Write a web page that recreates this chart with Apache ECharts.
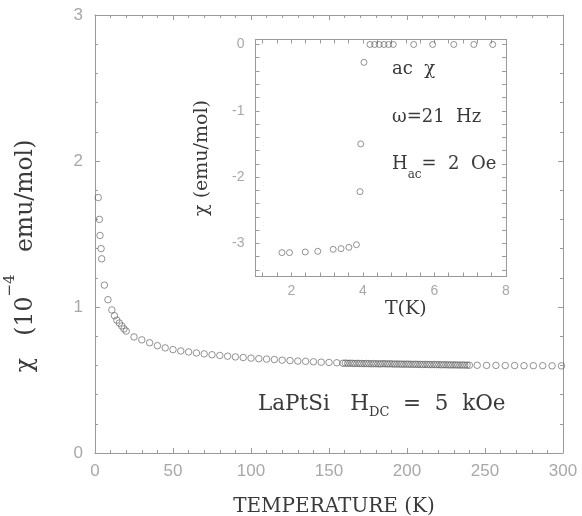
<!DOCTYPE html>
<html><head><meta charset="utf-8">
<script src="https://cdn.jsdelivr.net/npm/echarts@6/dist/echarts.min.js"></script>
<style>html,body{margin:0;padding:0;background:#fff}#c{width:582px;height:516px}</style>
</head><body><div id="c"></div>
<script>
// Main DC susceptibility data: temperature (K) and chi (1e-4 emu/mol)
const mainT = [2.1, 2.8, 3.2, 3.9, 4.3, 6.0, 8.3, 10.8, 12.5, 14.0, 15.6, 17.2, 18.6, 20.0,
  25, 30, 35, 40, 45, 50, 55, 60, 65, 70, 75, 80, 85, 90, 95, 100, 105, 110, 115, 120, 125, 130, 135, 140, 145, 150, 155,
  159, 160.5, 162, 163.5, 165, 166.5, 168, 169.5, 171, 172.5, 174, 175.5, 177, 178.5, 180, 181.5, 183, 184.5, 186, 187.5,
  189, 190.5, 192, 193.5, 195, 196.5, 198, 199.5, 201, 202.5, 204, 205.5, 207, 208.5, 210, 211.5, 213, 214.5, 216, 217.5,
  219, 220.5, 222, 223.5, 225, 226.5, 228, 229.5, 231, 232.5, 234, 235.5, 237, 238.5, 240,
  245, 251, 257, 263, 269, 275, 281, 287, 293, 299];
const mainChi = [1.75, 1.60, 1.49, 1.40, 1.33, 1.15, 1.05, 0.98, 0.94, 0.91, 0.89, 0.87, 0.85, 0.835,
  0.795, 0.775, 0.755, 0.735, 0.720, 0.708, 0.699, 0.692, 0.685, 0.679, 0.673, 0.668, 0.663, 0.658, 0.654, 0.650, 0.646, 0.643, 0.640, 0.636, 0.633, 0.630, 0.628, 0.625, 0.622, 0.620, 0.618,
  0.615, 0.616, 0.614, 0.615, 0.614, 0.613, 0.614, 0.613, 0.613, 0.612, 0.613, 0.612, 0.611, 0.612, 0.611, 0.611, 0.610, 0.612, 0.611, 0.610,
  0.611, 0.610, 0.609, 0.610, 0.609, 0.609, 0.608, 0.609, 0.608, 0.608, 0.607, 0.608, 0.607, 0.607, 0.606, 0.607, 0.606, 0.606, 0.605, 0.606,
  0.605, 0.605, 0.604, 0.605, 0.604, 0.604, 0.603, 0.604, 0.603, 0.603, 0.602, 0.603, 0.602, 0.602, 0.601,
  0.601, 0.600, 0.600, 0.599, 0.599, 0.598, 0.598, 0.598, 0.597, 0.597];

// Inset AC susceptibility: T (K) and chi (emu/mol)
const insetT = [1.74, 1.95, 2.39, 2.74, 3.17, 3.39, 3.61, 3.82, 3.92, 3.94, 4.03,
  4.20, 4.33, 4.46, 4.59, 4.72, 4.85, 5.42, 5.95, 6.54, 7.10, 7.63];
const insetChi = [-3.14, -3.14, -3.13, -3.12, -3.09, -3.08, -3.06, -3.02, -2.22, -1.50, -0.27,
  0, 0, 0, 0, 0, 0, 0, 0, 0, 0, 0];

// Inset tick values
const insetXLabels = [2, 4, 6, 8];
const insetXTicks = [1.2, 1.6, 2, 2.4, 2.8, 3.2, 3.6, 4, 4.4, 4.8, 5.2, 5.6, 6, 6.4, 6.8, 7.2, 7.6, 8];
const insetYLabels = [-3, -2, -1, 0];
const insetYTicks = [-3.4, -3.2, -3, -2.8, -2.6, -2.4, -2.2, -2, -1.8, -1.6, -1.4, -1.2, -1, -0.8, -0.6, -0.4, -0.2, 0];

const AX = '#9a9a9a';
const LBL = '#a8a8a8';
const TXT = '#3a3a3a';
const SERIF = 'DejaVu Serif';
const SANS = 'Liberation Sans';

const chart = echarts.init(document.getElementById('c'), null, {renderer: 'canvas'});

function mainX(pos, show) {
  return {
    type: 'value', gridIndex: 0, position: pos, min: 0, max: 300, interval: 50,
    axisLine: {show: true, onZero: false, lineStyle: {color: AX, width: 1}},
    axisTick: {show: true, inside: true, length: 5, lineStyle: {color: AX}},
    minorTick: {show: true, splitNumber: 5, length: 3, lineStyle: {color: AX}},
    axisLabel: {show: show, color: LBL, fontSize: 17, fontFamily: SANS, margin: 10},
    splitLine: {show: false}
  };
}
function mainY(pos, show) {
  return {
    type: 'value', gridIndex: 0, position: pos, min: 0, max: 3, interval: 1,
    axisLine: {show: true, onZero: false, lineStyle: {color: AX, width: 1}},
    axisTick: {show: true, inside: true, length: 5, lineStyle: {color: AX}},
    minorTick: {show: true, splitNumber: 5, length: 3, lineStyle: {color: AX}},
    axisLabel: {show: show, color: LBL, fontSize: 17, fontFamily: SANS, margin: 12},
    splitLine: {show: false}
  };
}
function insetX(pos, show) {
  return {
    type: 'value', gridIndex: 1, position: pos, min: 1, max: 8,
    axisLine: {show: true, onZero: false, lineStyle: {color: AX, width: 1}},
    axisTick: {show: true, inside: true, length: 4, customValues: insetXTicks, lineStyle: {color: AX}},
    axisLabel: {show: show, color: LBL, fontSize: 14, fontFamily: SANS, margin: 8, customValues: insetXLabels},
    splitLine: {show: false}
  };
}
function insetY(pos, show) {
  return {
    type: 'value', gridIndex: 1, position: pos, min: -3.5, max: 0.075,
    axisLine: {show: true, onZero: false, lineStyle: {color: AX, width: 1}},
    axisTick: {show: true, inside: true, length: 4, customValues: insetYTicks, lineStyle: {color: AX}},
    axisLabel: {show: show, color: LBL, fontSize: 14, fontFamily: SANS, margin: 11, customValues: insetYLabels},
    splitLine: {show: false}
  };
}

const xMain = mainX('bottom', true);
xMain.name = 'TEMPERATURE (K)';
xMain.nameLocation = 'middle';
xMain.nameGap = 44;
xMain.nameTextStyle = {fontFamily: SERIF, fontSize: 20, color: TXT, padding: [0, 0, 0, 10]};

const yMain = mainY('left', true);
yMain.name = '{a|χ   (10}{s|−4}{a|   emu/mol)}';
yMain.nameLocation = 'middle';
yMain.nameRotate = 90;
yMain.nameGap = 57;
yMain.nameTextStyle = {
  padding: [0, 44, 0, 0],
  rich: {
    a: {fontFamily: SERIF, fontSize: 23.5, color: TXT, lineHeight: 35, verticalAlign: 'bottom'},
    s: {fontFamily: SERIF, fontSize: 15, color: TXT, lineHeight: 14, verticalAlign: 'top'}
  }
};

const xIn = insetX('bottom', true);
xIn.name = 'T(K)';
xIn.nameLocation = 'middle';
xIn.nameGap = 20;
xIn.nameTextStyle = {fontFamily: SERIF, fontSize: 19, color: TXT, padding: [0, 0, 0, 50]};

const yIn = insetY('left', true);
yIn.name = 'χ (emu/mol)';
yIn.nameLocation = 'middle';
yIn.nameRotate = 90;
yIn.nameGap = 44;
yIn.nameTextStyle = {fontFamily: SERIF, fontSize: 19, color: TXT};

chart.setOption({
  backgroundColor: '#ffffff',
  animation: false,
  grid: [
    {left: 95, top: 15, right: 19, bottom: 63, containLabel: false, outerBoundsMode: 'none'},
    {left: 255.5, top: 39.5, right: 76, bottom: 239.5, containLabel: false, outerBoundsMode: 'none'}
  ],
  xAxis: [xMain, mainX('top', false), xIn, insetX('top', false)],
  yAxis: [yMain, mainY('right', false), yIn, insetY('right', false)],
  graphic: [
    {type: 'text', x: 392, y: 69, style: {text: 'ac  χ', fontFamily: SERIF, fontSize: 18, fill: TXT, align: 'left', verticalAlign: 'middle'}},
    {type: 'text', x: 392, y: 117, style: {text: 'ω=21  Hz', fontFamily: SERIF, fontSize: 18, fill: TXT, align: 'left', verticalAlign: 'middle'}},
    {type: 'text', x: 392, y: 155, style: {
      text: '{a|H}{s|ac}{a|=  2  Oe}', align: 'left', verticalAlign: 'top',
      rich: {
        a: {fontFamily: SERIF, fontSize: 18, fill: TXT, color: TXT, lineHeight: 20, verticalAlign: 'top'},
        s: {fontFamily: SERIF, fontSize: 12, fill: TXT, color: TXT, lineHeight: 40, verticalAlign: 'middle'}
      }}},
    {type: 'text', x: 258, y: 393, style: {
      text: '{a|LaPtSi   H}{s|DC}{a|  =  5  kOe}', align: 'left', verticalAlign: 'top',
      rich: {
        a: {fontFamily: SERIF, fontSize: 21.5, fill: TXT, color: TXT, lineHeight: 24, verticalAlign: 'top'},
        s: {fontFamily: SERIF, fontSize: 13, fill: TXT, color: TXT, lineHeight: 40, verticalAlign: 'middle'}
      }}}
  ],
  series: [
    {
      type: 'scatter', xAxisIndex: 0, yAxisIndex: 0,
      data: mainT.map((t, i) => [t, mainChi[i]]),
      symbol: 'circle', symbolSize: 6.5,
      itemStyle: {color: 'rgba(255,255,255,0)', borderColor: '#555', borderWidth: 0.8}
    },
    {
      type: 'scatter', xAxisIndex: 2, yAxisIndex: 2,
      data: insetT.map((t, i) => [t, insetChi[i]]),
      symbol: 'circle', symbolSize: 6,
      itemStyle: {color: 'rgba(255,255,255,0)', borderColor: '#555', borderWidth: 0.8}
    }
  ]
});
</script>
</body></html>
